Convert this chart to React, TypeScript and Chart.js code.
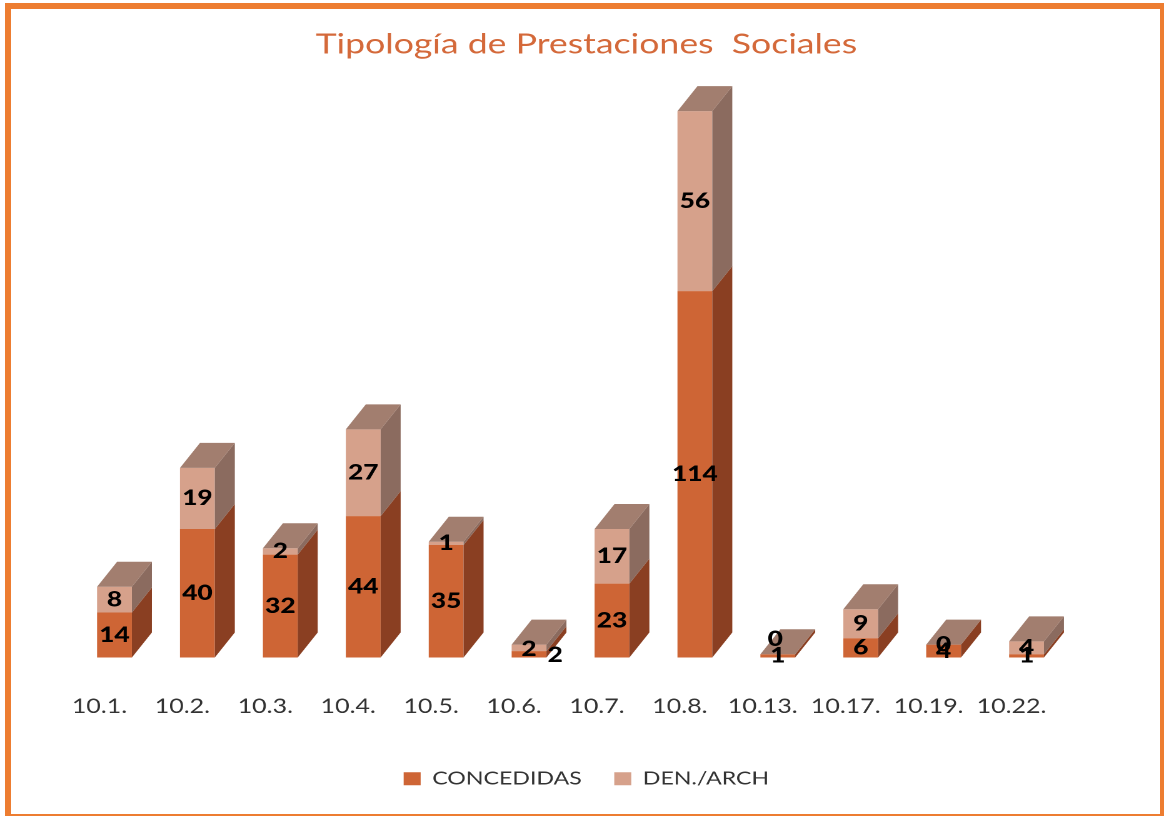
import React, { useEffect, useRef } from "react";
import { Chart, registerables } from "chart.js";

Chart.register(...registerables);

// ---- data ----
const categories = ["10.1.", "10.2.", "10.3.", "10.4.", "10.5.", "10.6.", "10.7.", "10.8.", "10.13.", "10.17.", "10.19.", "10.22."];
const concedidas = [14, 40, 32, 44, 35, 2, 23, 114, 1, 6, 4, 1];
const denArch = [8, 19, 2, 27, 1, 2, 17, 56, 0, 9, 0, 4];
const seriesNames = ["CONCEDIDAS", "DEN./ARCH"];
const chartTitle = "Tipología de Prestaciones  Sociales";
const yMax = 180;

// ---- geometry / style ----
const W = 1164;
const H = 816;
const CW = 931; // canvas logical width (stretched horizontally to W)
const SCALE = W / CW;

const COLORS = {
  concFront: "#CE6535",
  concSide: "#8A3F22",
  denFront: "#D6A18B",
  denSide: "#8B6B5F",
  top: "#A27E6F",
  title: "#D4693A",
  text: "#333333",
  border: "#ED7D31",
};

const DEPTH_X = 16;
const DEPTH_Y = 25;

// label nudges (dataset-index) -> [dx, dy] in canvas px, for crowded tiny segments
const LABEL_NUDGE: Record<string, number[]> = {
  "0-5": [21, 1],
  "1-5": [0, 1.5],
  "1-8": [-2, -15],
};

const bar3d = {
  id: "bar3d",
  afterDatasetsDraw(chart: any) {
    const ctx = chart.ctx as CanvasRenderingContext2D;
    const m0 = chart.getDatasetMeta(0);
    const m1 = chart.getDatasetMeta(1);
    const poly = (pts: number[][], c: string) => {
      ctx.beginPath();
      ctx.moveTo(pts[0][0], pts[0][1]);
      for (let k = 1; k < pts.length; k++) ctx.lineTo(pts[k][0], pts[k][1]);
      ctx.closePath();
      ctx.fillStyle = c;
      ctx.fill();
    };
    ctx.save();
    m0.data.forEach((b0: any, i: number) => {
      const b1 = m1.data[i];
      const p0 = b0.getProps(["x", "y", "base", "width"], true);
      const p1 = b1.getProps(["x", "y", "base", "width"], true);
      const L = p0.x - p0.width / 2;
      const R = p0.x + p0.width / 2;
      const dx = DEPTH_X;
      const dy = DEPTH_Y;
      poly([[R, p0.base], [R + dx, p0.base - dy], [R + dx, p0.y - dy], [R, p0.y]], COLORS.concSide);
      poly([[R, p1.base], [R + dx, p1.base - dy], [R + dx, p1.y - dy], [R, p1.y]], COLORS.denSide);
      const top = Math.min(p0.y, p1.y);
      poly([[L, top], [L + dx, top - dy], [R + dx, top - dy], [R, top]], COLORS.top);
    });
    // data labels
    ctx.font = "900 21px Lato";
    ctx.fillStyle = "#000";
    ctx.textAlign = "center";
    ctx.textBaseline = "middle";
    [m0, m1].forEach((meta: any, d: number) => {
      const vals = d === 0 ? concedidas : denArch;
      meta.data.forEach((b: any, i: number) => {
        const p = b.getProps(["x", "y", "base"], true);
        const n = LABEL_NUDGE[`${d}-${i}`] || [0, 0];
        ctx.fillText(String(vals[i]), p.x + n[0], (p.y + p.base) / 2 + n[1]);
      });
    });
    ctx.restore();
  },
};

export default function App() {
  const ref = useRef<HTMLCanvasElement>(null);
  useEffect(() => {
    if (!ref.current) return;
    Chart.defaults.font.family = "Lato";
    const chart = new Chart(ref.current, {
      type: "bar",
      data: {
        labels: categories,
        datasets: [
          {
            label: seriesNames[0],
            data: concedidas,
            backgroundColor: COLORS.concFront,
            borderWidth: 0,
            barPercentage: 0.42,
            categoryPercentage: 1,
          },
          {
            label: seriesNames[1],
            data: denArch,
            backgroundColor: COLORS.denFront,
            borderWidth: 0,
            barPercentage: 0.42,
            categoryPercentage: 1,
          },
        ],
      },
      options: {
        responsive: false,
        animation: false,
        devicePixelRatio: 2,
        layout: { padding: { top: 0, bottom: 18, left: 58.4, right: 51.4 } },
        plugins: {
          title: {
            display: true,
            text: chartTitle,
            color: COLORS.title,
            font: { family: "Lato", size: 28.5, weight: "normal" },
            padding: { top: 27, bottom: 17.8 },
          },
          legend: {
            position: "bottom",
            labels: {
              boxWidth: 13.6,
              boxHeight: 13,
              padding: 26,
              color: COLORS.text,
              font: { family: "Lato", size: 18.5 },
            },
          },
          tooltip: { enabled: false },
        },
        scales: {
          x: {
            stacked: true,
            grid: { display: false, drawTicks: true, tickLength: 37 },
            border: { display: false },
            ticks: {
              color: COLORS.text,
              font: { family: "Lato", size: 20 },
              padding: 0,
              labelOffset: -12,
              maxRotation: 0,
              autoSkip: false,
            },
            title: { display: true, text: "", font: { size: 10 }, padding: { top: 13, bottom: 0 } },
          },
          y: {
            stacked: true,
            position: "right",
            min: 0,
            max: yMax,
            grid: { display: false, drawTicks: false },
            border: { display: false },
            ticks: { display: false },
            afterFit: (s: any) => {
              s.width = 25.4;
            },
          },
        },
      } as any,
      plugins: [bar3d],
    });
    return () => chart.destroy();
  }, []);

  return (
    <div style={{ position: "fixed", left: 0, top: 0, width: W, height: H, overflow: "hidden", background: "#fff" }}>
      <canvas
        ref={ref}
        width={CW}
        height={H}
        style={{ position: "absolute", left: 0, top: 0, transform: `scaleX(${SCALE})`, transformOrigin: "0 0" }}
      />
      <div
        style={{
          position: "absolute",
          left: 5,
          top: 3,
          width: 1161,
          height: 817,
          boxSizing: "border-box",
          border: `6px solid ${COLORS.border}`,
          pointerEvents: "none",
        }}
      />
    </div>
  );
}
